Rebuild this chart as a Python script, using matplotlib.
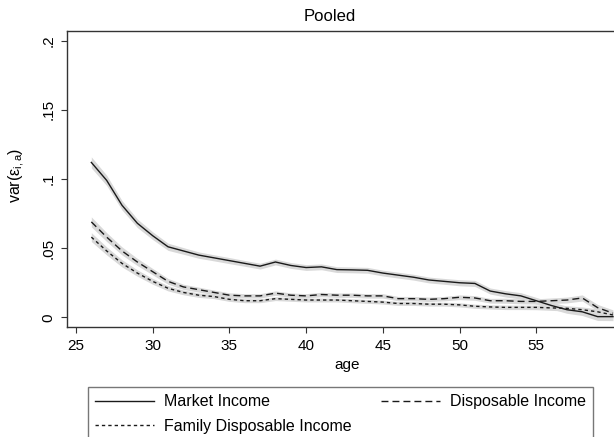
import numpy as np
import matplotlib
matplotlib.use('Agg')
import matplotlib.pyplot as plt

plt.rcParams['font.family'] = ['Liberation Sans', 'DejaVu Sans']
plt.rcParams['mathtext.fontset'] = 'custom'
plt.rcParams['mathtext.rm'] = 'Liberation Sans'
plt.rcParams['mathtext.it'] = 'Liberation Sans:italic'
plt.rcParams['lines.scale_dashes'] = False

# datos
ages = np.arange(26, 61)
market = [0.112, 0.099, 0.081, 0.068, 0.059, 0.051, 0.048, 0.045, 0.043, 0.041,
          0.039, 0.037, 0.040, 0.0375, 0.036, 0.0365, 0.0345, 0.0343, 0.034, 0.032,
          0.0305, 0.029, 0.027, 0.026, 0.025, 0.0245, 0.019, 0.017, 0.0155, 0.012,
          0.0085, 0.0055, 0.004, 0.0005, 0.0005]
dispo = [0.069, 0.058, 0.048, 0.040, 0.033, 0.026, 0.022, 0.020, 0.018, 0.016,
         0.0155, 0.0155, 0.0175, 0.016, 0.0155, 0.0165, 0.016, 0.016, 0.0155, 0.0155,
         0.0135, 0.0135, 0.013, 0.0135, 0.0145, 0.014, 0.012, 0.012, 0.0115, 0.0115,
         0.012, 0.0125, 0.014, 0.007, 0.003]
family = [0.058, 0.048, 0.039, 0.032, 0.026, 0.021, 0.018, 0.016, 0.015, 0.013,
          0.012, 0.012, 0.0135, 0.013, 0.0125, 0.0125, 0.0125, 0.012, 0.0115, 0.011,
          0.010, 0.010, 0.0095, 0.0095, 0.009, 0.008, 0.0075, 0.0072, 0.0072, 0.0072,
          0.0068, 0.0065, 0.0055, 0.004, 0.0017]

# semi-ancho del intervalo de confianza
ci_market = [0.0040, 0.0037, 0.0034, 0.0031, 0.0028, 0.0026, 0.0024, 0.0023, 0.0022, 0.0022,
             0.0021, 0.0021, 0.0021, 0.0021, 0.0021, 0.0021, 0.0021, 0.0021, 0.0021, 0.0021,
             0.0021, 0.0021, 0.0021, 0.0021, 0.0022, 0.0022, 0.0022, 0.0023, 0.0023, 0.0024,
             0.0025, 0.0026, 0.0027, 0.0028, 0.0029]
ci_dispo = [0.0036, 0.0032, 0.0029, 0.0026, 0.0023, 0.0021, 0.0019, 0.0018, 0.0017, 0.0017,
            0.0016, 0.0016, 0.0016, 0.0016, 0.0016, 0.0016, 0.0016, 0.0016, 0.0016, 0.0016,
            0.0016, 0.0016, 0.0016, 0.0016, 0.0017, 0.0017, 0.0017, 0.0018, 0.0018, 0.0019,
            0.0020, 0.0021, 0.0022, 0.0023, 0.0024]
ci_family = [0.0032, 0.0029, 0.0026, 0.0023, 0.0021, 0.0019, 0.0017, 0.0016, 0.0015, 0.0015,
             0.0014, 0.0014, 0.0014, 0.0014, 0.0014, 0.0014, 0.0014, 0.0014, 0.0014, 0.0014,
             0.0014, 0.0014, 0.0014, 0.0014, 0.0015, 0.0015, 0.0015, 0.0016, 0.0016, 0.0017,
             0.0018, 0.0019, 0.0020, 0.0021, 0.0022]

series = [("Market Income", market, ci_market, (None, None)),
          ("Disposable Income", dispo, ci_dispo, (5.0, 2.9)),
          ("Family Disposable Income", family, ci_family, (2.4, 2.2))]

fig = plt.figure(figsize=(6.14, 4.37), dpi=100)
ax = fig.add_axes([0.1091, 0.2517, 0.8917, 0.6773])

lines = {}
for name, y, ci, dash in series:
    y = np.array(y)
    ci = np.array(ci)
    ax.fill_between(ages, y - ci, y + ci, color='#d9d9d9', lw=0, zorder=1)
for name, y, ci, dash in series:
    l, = ax.plot(ages, y, color='#1a1a1a', lw=1.0, zorder=3, label=name)
    if dash[0] is not None:
        l.set_dashes(dash)
    lines[name] = l

ax.set_xlim(24.413, 60.1)
ax.set_ylim(-0.0070, 0.2070)
ax.set_xticks([25, 30, 35, 40, 45, 50, 55])
ax.set_yticks([0, 0.05, 0.1, 0.15, 0.2])
ax.set_yticklabels(['0', '.05', '.1', '.15', '.2'], rotation=90, va='center')
ax.tick_params(axis='both', labelsize=11, length=4.3, width=0.8, color='#333333')
ax.tick_params(axis='x', pad=4.5)
ax.tick_params(axis='y', pad=4)
for s in ['left', 'bottom', 'top']:
    ax.spines[s].set_color('#333333')
    ax.spines[s].set_linewidth(1.0)
ax.spines['right'].set_visible(False)

fig.text(330 / 614, 1 - 16.5 / 437, 'Pooled', ha='center', va='center', fontsize=12)
fig.text(347 / 614, 1 - 365 / 437, 'age', ha='center', va='center', fontsize=11)
fig.text(17 / 614, 1 - 175 / 437, r'var(ε$_{\mathrm{i,a}}$)', ha='center', va='center',
         rotation=90, fontsize=11.5)

h = [lines["Market Income"], lines["Family Disposable Income"], lines["Disposable Income"]]
leg = fig.legend(h, [l.get_label() for l in h], loc='upper left',
                 bbox_to_anchor=(88 / 614, 1 - 387 / 437, 505 / 614, 0.0),
                 mode='expand', ncol=2, fontsize=11.5, frameon=True, fancybox=False,
                 edgecolor='#555555', handlelength=3.7, handletextpad=0.6,
                 labelspacing=0.6, borderpad=0.45, borderaxespad=0.0)
leg.get_frame().set_linewidth(1.0)

fig.savefig('out.png', dpi=100)
